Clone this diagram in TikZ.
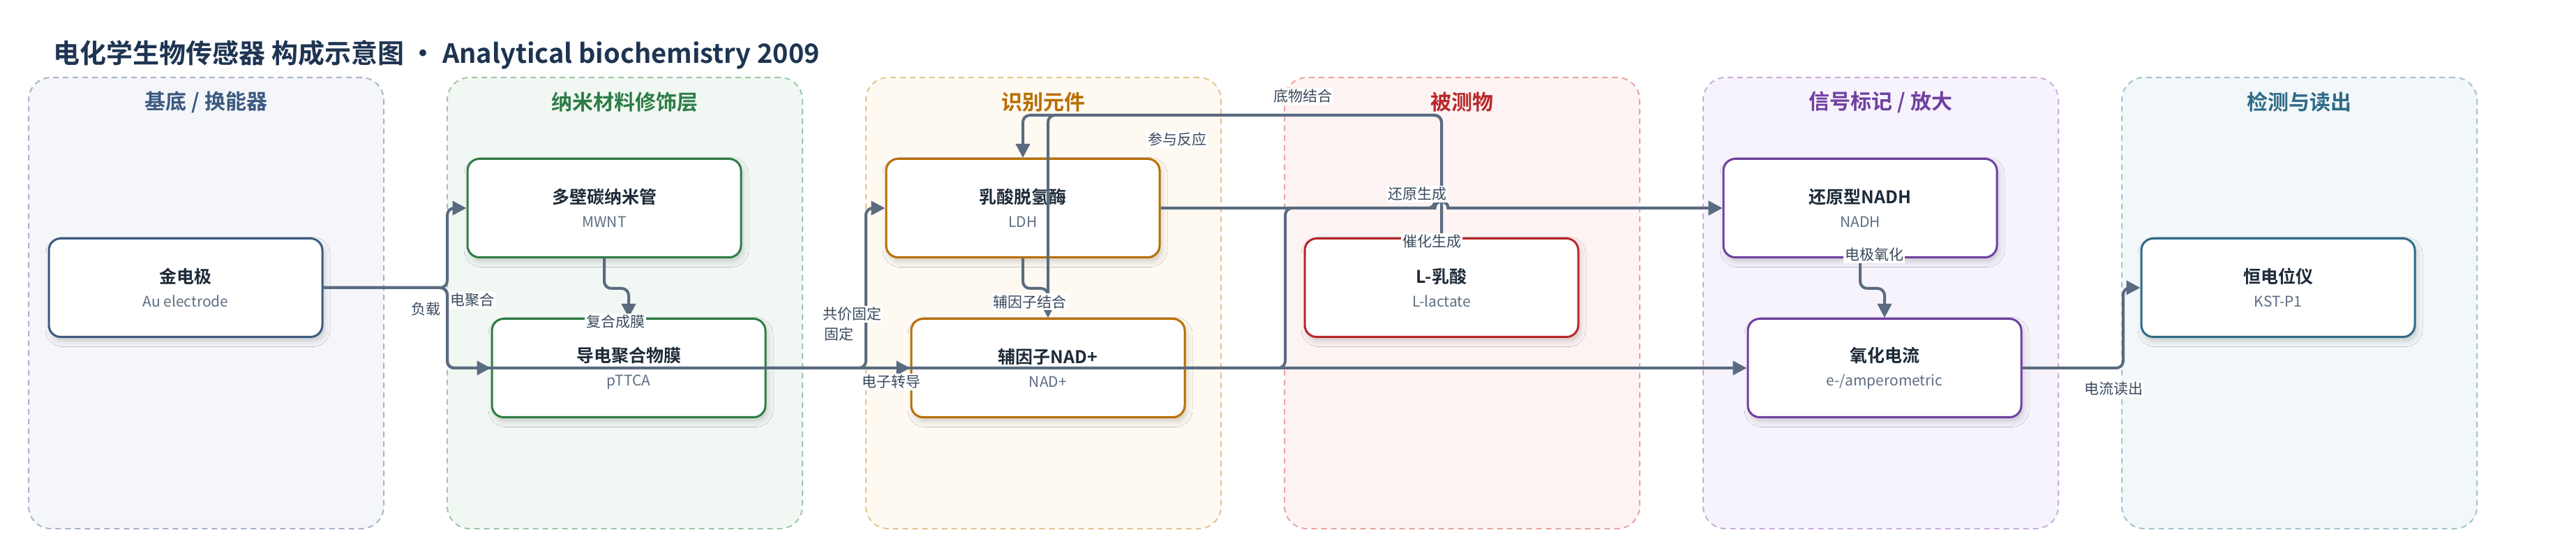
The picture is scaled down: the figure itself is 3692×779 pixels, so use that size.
\documentclass[tikz,border=0pt]{standalone}
\usepackage{fontspec}
\setmainfont{Noto Sans CJK SC}[BoldFont={Noto Sans CJK SC Bold}]
\usetikzlibrary{arrows.meta,shadows.blur}

\definecolor{titlec}{HTML}{1E3452}
\definecolor{connc}{HTML}{5A6B80}
\definecolor{lblc}{HTML}{3A4A5C}
\definecolor{nodetc}{HTML}{1E2A38}
\definecolor{subc}{HTML}{5E6E82}
% lane 1
\definecolor{aT}{HTML}{3D5A80}\definecolor{aF}{HTML}{F4F6FA}\definecolor{aD}{HTML}{A8B4C8}
% lane 2
\definecolor{bT}{HTML}{2E7D46}\definecolor{bF}{HTML}{F1F8F3}\definecolor{bD}{HTML}{9CC8A8}
% lane 3
\definecolor{cT}{HTML}{B86E00}\definecolor{cF}{HTML}{FEF9F1}\definecolor{cD}{HTML}{E5C48E}
% lane 4
\definecolor{dT}{HTML}{B8282A}\definecolor{dF}{HTML}{FDF3F3}\definecolor{dD}{HTML}{E8A4A4}
% lane 5
\definecolor{eT}{HTML}{7040A0}\definecolor{eF}{HTML}{F7F3FC}\definecolor{eD}{HTML}{C8AEE0}
% lane 6
\definecolor{fT}{HTML}{2F6B86}\definecolor{fF}{HTML}{F2F7F9}\definecolor{fD}{HTML}{A3C4CE}

\tikzset{
  lanebox/.style 2 args={fill=#1, draw=#2, line width=1pt, dash pattern=on 4pt off 3pt,
    rounded corners=16pt, minimum width=254.5pt, minimum height=323pt, inner sep=0pt},
  lanetitle/.style={font=\fontsize{15}{18}\selectfont\bfseries, text=#1, inner sep=0pt},
  box/.style={draw=#1, fill=white, line width=1.5pt, rounded corners=8.5pt,
    minimum width=196pt, minimum height=70.5pt, align=center, inner sep=0pt,
    blur shadow={shadow xshift=1.5pt, shadow yshift=-3pt, shadow blur radius=4pt, shadow opacity=18}},
  conn/.style={draw=connc, line width=2pt, rounded corners=5pt,
    -{Triangle[length=10pt,width=10pt]}},
  lbl/.style={fill=white, inner sep=1pt, text=lblc, font=\fontsize{10.5}{12}\selectfont},
}
\newcommand{\nodetext}[2]{{\fontsize{12.5}{16.5}\selectfont\bfseries\color{nodetc}#1}\\[5pt]{\fontsize{10.5}{16.5}\selectfont\color{subc}#2}}

\begin{document}
\begin{tikzpicture}[x=0.5pt,y=-0.5pt]
\useasboundingbox (0,0) rectangle (3692,779);
\fill[white] (0,0) rectangle (3692,779);

% title
\node[anchor=west, font=\fontsize{19}{22}\selectfont\bfseries, text=titlec, inner sep=0pt] (title) at (76,78)
  {电化学生物传感器 构成示意图 · Analytical biochemistry 2009};

% lanes
\node[lanebox={aF}{aD}] (lane1) at (295.5,434) {};
\node[lanebox={bF}{bD}] (lane2) at (895.5,434) {};
\node[lanebox={cF}{cD}] (lane3) at (1495.5,434) {};
\node[lanebox={dF}{dD}] (lane4) at (2095.5,434) {};
\node[lanebox={eF}{eD}] (lane5) at (2695.5,434) {};
\node[lanebox={fF}{fD}] (lane6) at (3295.5,434) {};

\node[lanetitle=aT] (lt1) at (295.5,146) {基底 / 换能器};
\node[lanetitle=bT] (lt2) at (895.5,146) {纳米材料修饰层};
\node[lanetitle=cT] (lt3) at (1495.5,146) {识别元件};
\node[lanetitle=dT] (lt4) at (2095.5,146) {被测物};
\node[lanetitle=eT] (lt5) at (2695.5,146) {信号标记 / 放大};
\node[lanetitle=fT] (lt6) at (3295.5,146) {检测与读出};

% nodes
\node[box=aT] (au) at (266,412) {\nodetext{金电极}{Au electrode}};
\node[box=bT] (mwnt) at (866,298) {\nodetext{多壁碳纳米管}{MWNT}};
\node[box=bT] (pttca) at (901,527) {\nodetext{导电聚合物膜}{pTTCA}};
\node[box=cT] (ldh) at (1466,298) {\nodetext{乳酸脱氢酶}{LDH}};
\node[box=cT] (nad) at (1502,527) {\nodetext{辅因子NAD+}{NAD+}};
\node[box=dT] (lac) at (2066,412) {\nodetext{L-乳酸}{L-lactate}};
\node[box=eT] (nadh) at (2666,298) {\nodetext{还原型NADH}{NADH}};
\node[box=eT] (cur) at (2701,527) {\nodetext{氧化电流}{e-/amperometric}};
\node[box=fT] (pot) at (3265,412) {\nodetext{恒电位仪}{KST-P1}};

% connectors
\draw[conn] (au.east) -- (641,412) |- (mwnt.west);
\draw[conn] (au.east) -- (641,412) |- (pttca.west);
\draw[conn] (au.east) -- (641,412) |- (cur.west);
\draw[conn] (mwnt.south) -- ++(0,43) -| (pttca.north);
\draw[conn] (pttca.east) -- (1241,527) |- (ldh.west);
\draw[conn] (pttca.east) -- (nad.west);
\draw[conn] (ldh.south) -- ++(0,43) -| (nad.north);
\draw[conn] (lac.north) -- (2066,165) -| (ldh.north);
\draw[conn] (lac.north) -- (2066,165) -| (nad.north);
\draw[conn, sharp corners] (ldh.east) -- (2056.5,298) arc[start angle=180, end angle=360, radius=9.5] -- (nadh.west);
\draw[conn] (nad.east) -- (1842,527) |- (2056.5,298) [sharp corners] arc[start angle=180, end angle=360, radius=9.5] -- (nadh.west);
\draw[conn] (nadh.south) -- ++(0,43) -| (cur.north);
\draw[conn] (cur.east) -- (3043,527) |- (pot.west);

% connector labels
\node[lbl] (l1) at (610,443) {负载};
\node[lbl] (l2) at (677,430) {电聚合};
\node[lbl] (l3) at (882,461) {复合成膜};
\node[lbl] (l4) at (1221,450) {共价固定};
\node[lbl] (l5) at (1202,478) {固定};
\node[lbl] (l6) at (1277,547) {电子转导};
\node[lbl] (l7) at (1476,432) {辅因子结合};
\node[lbl] (l8) at (1687,200) {参与反应};
\node[lbl] (l9) at (1867,138) {底物结合};
\node[lbl] (l10) at (2031,278) {还原生成};
\node[lbl] (l11) at (2052,346) {催化生成};
\node[lbl] (l12) at (2686,365) {电极氧化};
\node[lbl] (l13) at (3029,557) {电流读出};
\end{tikzpicture}
\end{document}
